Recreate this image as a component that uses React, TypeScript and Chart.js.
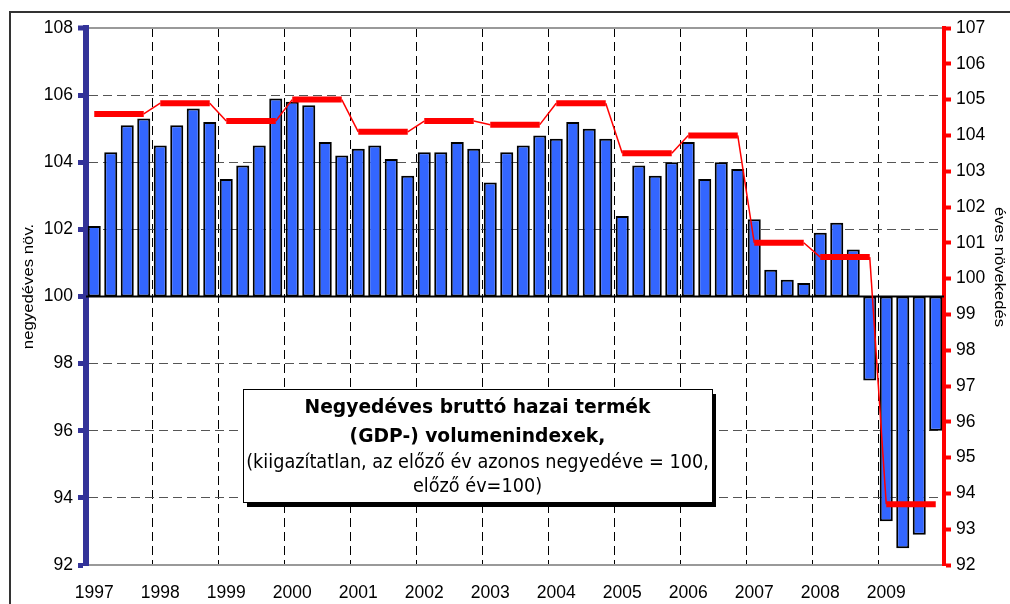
import React, { useEffect, useRef } from 'react';
import { Chart, registerables } from 'chart.js';

Chart.register(...registerables);

// ---- data ----
const years = ['1997', '1998', '1999', '2000', '2001', '2002', '2003', '2004', '2005', '2006', '2007', '2008', '2009'];

// quarterly volume index (same quarter of previous year = 100), Q1..Q4 per year
const quarterlyIndex = [
  102.1, 104.3, 105.1, 105.3,
  104.5, 105.1, 105.6, 105.2,
  103.5, 103.9, 104.5, 105.9,
  105.8, 105.7, 104.6, 104.2,
  104.4, 104.5, 104.1, 103.6,
  104.3, 104.3, 104.6, 104.4,
  103.4, 104.3, 104.5, 104.8,
  104.7, 105.2, 105.0, 104.7,
  102.4, 103.9, 103.6, 104.0,
  104.6, 103.5, 104.0, 103.8,
  102.3, 100.8, 100.5, 100.4,
  101.9, 102.2, 101.4, 97.5,
  93.3, 92.5, 92.9, 96.0,
];

// annual growth (previous year = 100)
const annualIndex = [104.6, 104.9, 104.4, 105.0, 104.1, 104.4, 104.3, 104.9, 103.5, 104.0, 101.0, 100.6, 93.7];

const leftAxis = { min: 92, max: 108, step: 2 };
const rightAxis = { min: 92, max: 107, step: 1 };

const leftTitle = 'negyedéves növ.';
const rightTitle = 'éves növekedés';
const boxLines = [
  'Negyedéves bruttó hazai termék',
  '(GDP-) volumenindexek,',
  '(kiigazítatlan, az előző év azonos negyedéve = 100,',
  'előző év=100)',
];

const TICK_FONT = { family: '"Liberation Sans Narrow", "Liberation Sans", Arial, sans-serif', size: 17.5 };

export default function App() {
  const ref = useRef<HTMLCanvasElement>(null);

  useEffect(() => {
    if (!ref.current) return;
    const n = quarterlyIndex.length;
    const labels = quarterlyIndex.map((_, i) => `${years[Math.floor(i / 4)]} Q${(i % 4) + 1}`);
    const barData = quarterlyIndex.map((v) => [100, v]);
    const lineData = quarterlyIndex.map((_, i) => annualIndex[Math.floor(i / 4)]);

    const decor = {
      id: 'decor',
      beforeDraw(chart: any) {
        const c = chart.ctx;
        c.save();
        c.fillStyle = '#ffffff';
        c.fillRect(0, 0, chart.width, chart.height);
        c.strokeStyle = '#333333';
        c.lineWidth = 2;
        c.beginPath();
        c.moveTo(10, chart.height);
        c.lineTo(10, 12);
        c.lineTo(chart.width, 12);
        c.stroke();
        c.restore();
      },
      beforeDatasetsDraw(chart: any) {
        const c = chart.ctx;
        const y = chart.scales.y.getPixelForValue(100);
        c.save();
        c.strokeStyle = '#000';
        c.lineWidth = 2;
        c.beginPath();
        c.moveTo(chart.chartArea.left, y);
        c.lineTo(chart.chartArea.right, y);
        c.stroke();
        c.restore();
      },
      afterDraw(chart: any) {
        const c = chart.ctx;
        // axis titles
        c.save();
        c.fillStyle = '#000';
        c.font = '15.5px "Liberation Sans", Arial, sans-serif';
        c.textAlign = 'center';
        c.textBaseline = 'middle';
        c.translate(28.5, 286.5);
        c.rotate(-Math.PI / 2);
        c.scale(1.08, 1);
        c.fillText(leftTitle, 0, 0);
        c.restore();

        c.save();
        c.fillStyle = '#000';
        c.font = '15.5px "Liberation Sans", Arial, sans-serif';
        c.textAlign = 'center';
        c.textBaseline = 'middle';
        c.translate(999.5, 267);
        c.rotate(Math.PI / 2);
        c.scale(1.07, 1);
        c.fillText(rightTitle, 0, 0);
        c.restore();

        // annotation box
        const bx = 243, by = 389, bw = 469, bh = 113;
        c.save();
        c.fillStyle = '#000';
        c.fillRect(bx + 4, by + 5, bw, bh);
        c.fillStyle = '#fff';
        c.fillRect(bx, by, bw, bh);
        c.strokeStyle = '#000';
        c.lineWidth = 1;
        c.strokeRect(bx + 0.5, by + 0.5, bw, bh);
        c.fillStyle = '#000';
        c.textAlign = 'center';
        c.textBaseline = 'alphabetic';
        const cx = bx + bw / 2;
        const specs = [
          { font: 'bold 18.7px "DejaVu Sans", Verdana, sans-serif', y: 413, sy: 1.05 },
          { font: 'bold 18.7px "DejaVu Sans", Verdana, sans-serif', y: 441.5, sy: 1.05 },
          { font: '17.7px "DejaVu Sans", Verdana, sans-serif', y: 468, sy: 1.1 },
          { font: '17.7px "DejaVu Sans", Verdana, sans-serif', y: 491.5, sy: 1.1 },
        ];
        boxLines.forEach((t, i) => {
          const s = specs[i];
          c.save();
          c.font = s.font;
          c.translate(cx, s.y);
          c.scale(1, s.sy);
          c.fillText(t, 0, 0);
          c.restore();
        });
        c.restore();
      },
    };

    const chart = new Chart(ref.current, {
      type: 'bar',
      data: {
        labels,
        datasets: [
          {
            type: 'line',
            label: 'éves növekedés',
            data: lineData,
            yAxisID: 'y1',
            borderColor: '#FF0000',
            backgroundColor: '#FF0000',
            pointRadius: 0,
            tension: 0,
            fill: false,
            borderCapStyle: 'butt',
            segment: {
              borderWidth: (ctx: any) => (ctx.p0DataIndex % 4 === 3 ? 1.5 : 6),
            },
            order: 1,
          } as any,
          {
            type: 'bar',
            label: 'negyedéves növ.',
            data: barData as any,
            yAxisID: 'y',
            backgroundColor: '#3366FF',
            borderColor: '#000000',
            borderWidth: 2,
            borderSkipped: false,
            barPercentage: 0.79,
            categoryPercentage: 1,
            order: 2,
          } as any,
        ],
      },
      options: {
        responsive: false,
        animation: false,
        layout: { padding: { top: 28, left: 0, right: 0, bottom: 0 } },
        plugins: { legend: { display: false }, tooltip: { enabled: false } },
        scales: {
          x: {
            type: 'category',
            offset: true,
            grid: {
              offset: true,
              drawTicks: false,
              color: (ctx: any) => (ctx.index > 0 && ctx.index < n && ctx.index % 4 === 0 ? '#000' : 'rgba(0,0,0,0)'),
              lineWidth: 1,
            },
            border: { display: true, color: '#999999', width: 2, dash: [9, 5] },
            ticks: {
              autoSkip: false,
              maxRotation: 0,
              minRotation: 0,
              padding: 18,
              color: '#000',
              font: TICK_FONT,
              callback: (_v: any, i: number) => (i % 4 === 0 ? years[i / 4] : ''),
            },
            afterFit: (s: any) => { s.height = 39; },
          },
          y: {
            position: 'left',
            min: leftAxis.min,
            max: leftAxis.max,
            ticks: { stepSize: leftAxis.step, color: '#000', font: TICK_FONT, padding: 5 },
            grid: {
              color: (ctx: any) => (ctx.tick && ctx.tick.value === leftAxis.max ? '#999999' : ctx.tick && ctx.tick.value === leftAxis.min ? 'rgba(0,0,0,0)' : '#555555'),
              lineWidth: (ctx: any) => (ctx.tick && ctx.tick.value === leftAxis.max ? 2 : 1),
              tickColor: '#333399',
              tickWidth: 5,
              tickLength: 8,
              tickBorderDash: [],
            },
            border: {
              color: '#333399',
              width: 6,
              dash: (ctx: any) => (ctx.tick && ctx.tick.value === leftAxis.max ? [] : [9, 5]),
            },
            afterFit: (s: any) => { s.width = 86; },
          },
          y1: {
            position: 'right',
            min: rightAxis.min,
            max: rightAxis.max,
            ticks: { stepSize: rightAxis.step, color: '#000', font: TICK_FONT, padding: 5 },
            grid: {
              drawOnChartArea: false,
              tickColor: '#FF0000',
              tickWidth: 4,
              tickLength: 7,
              tickBorderDash: [],
            },
            border: { color: '#FF0000', width: 4 },
            afterFit: (s: any) => { s.width = 66; },
          },
        },
      } as any,
      plugins: [decor],
    });
    return () => chart.destroy();
  }, []);

  return (
    <div style={{ position: 'fixed', left: 0, top: 0, width: 1010, height: 604, overflow: 'hidden', background: '#fff' }}>
      <canvas ref={ref} width={1010} height={604} style={{ display: 'block', width: 1010, height: 604 }} />
    </div>
  );
}
